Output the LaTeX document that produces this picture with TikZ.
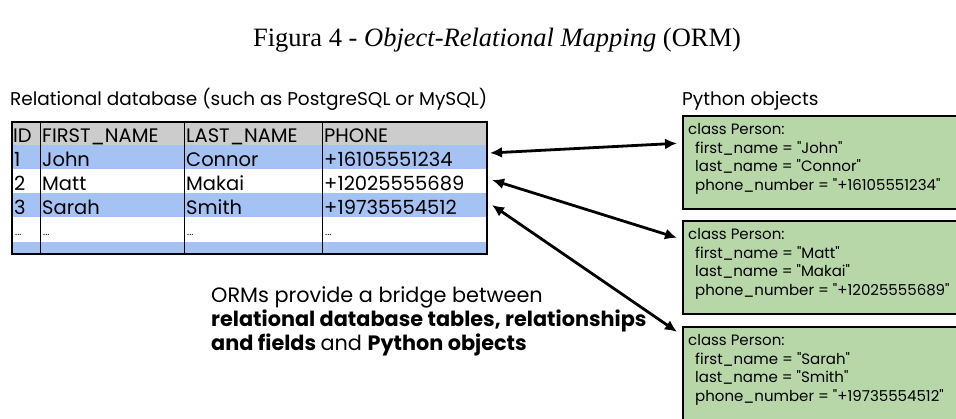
\documentclass[tikz,border=0pt]{standalone}
\usepackage{fontspec}
\setmainfont{Liberation Serif}
\newfontfamily\sk{Poppins}
\usetikzlibrary{arrows.meta}

\definecolor{rowblue}{RGB}{164,194,244}
\definecolor{headgray}{RGB}{204,204,204}
\definecolor{objgreen}{RGB}{183,215,168}

\newcommand{\ind}{\hspace*{7pt}}

\tikzset{
  cell/.style={anchor=base west, inner sep=0pt, font=\sk\fontsize{19.5}{22}\selectfont},
  dots/.style={anchor=base west, inner sep=0pt, font=\sk\fontsize{10}{11}\selectfont},
  caption/.style={anchor=base west, inner sep=0pt, font=\sk\fontsize{18.5}{21}\selectfont},
  pybox/.style={draw=black, line width=1.6pt, fill=objgreen, anchor=north west,
    minimum width=300pt, minimum height=93pt, inner sep=0pt},
  pycode/.style={anchor=north west, inner sep=0pt, align=left,
    font=\sk\fontsize{15}{18.8}\selectfont},
  bridge/.style={line width=2.8pt, {Latex[length=12pt,width=11pt]}-{Latex[length=12pt,width=11pt]}},
  note/.style={anchor=base west, inner sep=0pt, font=\sk\fontsize{20.8}{24}\selectfont},
}

\begin{document}
\begin{tikzpicture}[x=1pt, y=-1pt]
\useasboundingbox (0,0) rectangle (956,418);
\clip (0,0) rectangle (956,418);

% caption of the figure
\node[anchor=base, inner sep=0pt, font=\fontsize{26.5}{30}\selectfont] (title) at (497,46)
  {Figura 4 - \textit{Object-Relational Mapping} (ORM)};

% section headings
\node[caption] (dbhead) at (10,105) {Relational database (such as PostgreSQL or MySQL)};
\node[caption] (pyhead) at (682,105) {Python objects};

% table rows
\fill[headgray] (12,122) rectangle (487,145);
\fill[rowblue]  (12,145) rectangle (487,169);
\fill[white]    (12,169) rectangle (487,193);
\fill[rowblue]  (12,193) rectangle (487,217);
\fill[white]    (12,217) rectangle (487,242);
\fill[rowblue]  (12,242) rectangle (487,254);
% column rules and frame
\draw[line width=1pt] (40,122) -- (40,254);
\draw[line width=1pt] (184,122) -- (184,254);
\draw[line width=1pt] (322,122) -- (322,254);
\draw[line width=1.6pt] (12,122) rectangle (487,254);

% header
\node[cell] (hid)    at (13,142)  {ID};
\node[cell] (hfirst) at (42,142)  {FIRST\_NAME};
\node[cell] (hlast)  at (186,142) {LAST\_NAME};
\node[cell] (hphone) at (324,142) {PHONE};
% row 1
\node[cell] (id1) at (14,166)  {1};
\node[cell] (fn1) at (42,166)  {John};
\node[cell] (ln1) at (186,166) {Connor};
\node[cell] (ph1) at (324,166) {+16105551234};
% row 2
\node[cell] (id2) at (14,190)  {2};
\node[cell] (fn2) at (42,190)  {Matt};
\node[cell] (ln2) at (186,190) {Makai};
\node[cell] (ph2) at (324,190) {+12025555689};
% row 3
\node[cell] (id3) at (14,214)  {3};
\node[cell] (fn3) at (42,214)  {Sarah};
\node[cell] (ln3) at (186,214) {Smith};
\node[cell] (ph3) at (324,214) {+19735554512};
% row 4
\node[dots] (id4) at (15,235)  {...};
\node[dots] (fn4) at (43,235)  {...};
\node[dots] (ln4) at (187,235) {...};
\node[dots] (ph4) at (325,235) {...};

% row anchors on the right edge of the table
\coordinate (r1) at (490,153);
\coordinate (r2) at (492,180);
\coordinate (r3) at (492,205);

% python objects
\node[pybox] (obj1) at (682,115) {};
\node[pybox] (obj2) at (682,220) {};
\node[pybox, minimum height=110pt] (obj3) at (682,326) {};

\node[pycode] (code1) at (688,123) {class Person:\\
\ind first\_name = "John"\\
\ind last\_name = "Connor"\\
\ind phone\_number = "+16105551234"};
\node[pycode] (code2) at (688,228) {class Person:\\
\ind first\_name = "Matt"\\
\ind last\_name = "Makai"\\
\ind phone\_number = "+12025555689"};
\node[pycode] (code3) at (688,334) {class Person:\\
\ind first\_name = "Sarah"\\
\ind last\_name = "Smith"\\
\ind phone\_number = "+19735554512"};

\coordinate (o1) at ([xshift=-5pt,yshift=19pt]obj1.west);
\coordinate (o2) at ([xshift=-5pt,yshift=29.5pt]obj2.west);
\coordinate (o3) at ([xshift=-5pt,yshift=50pt]obj3.west);

% mapping arrows
\draw[bridge] (r1) -- (o1);
\draw[bridge] (r2) -- (o2);
\draw[bridge] (r3) -- (o3);

% explanation
\node[note] (n1) at (211,302) {ORMs provide a bridge between};
\node[note] (n2) at (211,326) {\bfseries relational database tables, relationships};
\node[note] (n3) at (211,350) {\bfseries and fields \mdseries and \bfseries Python objects};
\end{tikzpicture}
\end{document}
